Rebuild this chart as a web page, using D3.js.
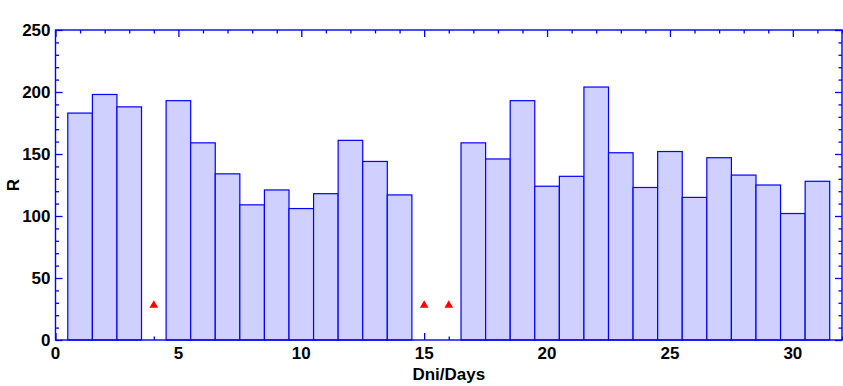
<!DOCTYPE html>
<html>
<head>
<meta charset="utf-8">
<script src="https://cdn.jsdelivr.net/npm/d3@7"></script>
<style>
  body { margin: 0; background: #fff; }
  text { font-family: "Liberation Sans", Arial, sans-serif; font-weight: bold; }
</style>
</head>
<body>
<svg id="chart" width="843" height="386"></svg>
<script>
// days with a measured R value
const days   = [1,2,3,5,6,7,8,9,10,11,12,13,14,17,18,19,20,21,22,23,24,25,26,27,28,29,30,31];
const rVals  = [183,198,188,193,159,134,109,121,106,118,161,144,117,159,146,193,124,132,204,151,123,152,115,147,133,125,102,128];
// missing days marked by triangles
const missDays = [4,15,16];
const missVals = [28,28,28];
const xTicks = [0,5,10,15,20,25,30];
const yTicks = [0,50,100,150,200,250];

const svg = d3.select("#chart");
const margin = { top: 30, right: 1, bottom: 46, left: 55.5 };
const W = 843 - margin.left - margin.right;
const H = 386 - margin.top - margin.bottom;
const G = svg.append("g").attr("transform", `translate(${margin.left},${margin.top})`);

const x = d3.scaleLinear().domain([0, 32]).range([0, W]);
const y = d3.scaleLinear().domain([0, 250]).range([H, 0]);
const blue = "#0000ff";

const minX = d3.range(0, 33), minY = d3.range(0, 251, 10);

// inward ticks on all four sides (drawn first, bars cover them)
[[d3.axisBottom(x), `translate(0,${H})`, minX, xTicks],
 [d3.axisTop(x), "translate(0,0)", minX, xTicks],
 [d3.axisLeft(y), "translate(0,0)", minY, yTicks],
 [d3.axisRight(y), `translate(${W},0)`, minY, yTicks]].forEach(([ax, tr, mn, mj]) => {
  const g = G.append("g").attr("transform", tr);
  g.call(ax.tickValues(mn).tickSize(-3.5).tickFormat("")).call(s => s.select(".domain").remove());
  g.selectAll(".tick line").attr("stroke", blue).attr("stroke-width", 1.3)
    .filter(d => mj.includes(d))
    .each(function() {
      const l = d3.select(this);
      if (l.attr("y2") !== null && +l.attr("y2") !== 0) l.attr("y2", +l.attr("y2") * 2);
      if (l.attr("x2") !== null && +l.attr("x2") !== 0) l.attr("x2", +l.attr("x2") * 2);
    });
});

// bars
G.selectAll("rect.bar")
  .data(days.map((d, i) => ({ d, v: rVals[i] })))
  .enter().append("rect")
  .attr("class", "bar")
  .attr("x", d => x(d.d - 0.5))
  .attr("width", d => x(d.d + 0.5) - x(d.d - 0.5))
  .attr("y", d => y(d.v))
  .attr("height", d => y(0) - y(d.v))
  .attr("fill", "#d0d0ff")
  .attr("stroke", blue)
  .attr("stroke-width", 1.2);

// missing-value markers
G.selectAll("path.miss")
  .data(missDays.map((d, i) => ({ d, v: missVals[i] })))
  .enter().append("path")
  .attr("class", "miss")
  .attr("transform", d => `translate(${x(d.d)},${y(d.v)})`)
  .attr("d", d3.symbol(d3.symbolTriangle, 32))
  .attr("fill", "#ff0000");

// frame
G.append("rect").attr("width", W).attr("height", H)
  .attr("fill", "none").attr("stroke", blue).attr("stroke-width", 1.4);

// tick labels
G.selectAll("text.xl").data(xTicks).enter().append("text")
  .attr("x", d => x(d)).attr("y", H + 19)
  .attr("text-anchor", "middle").attr("font-size", 17).text(d => d);
G.selectAll("text.yl").data(yTicks).enter().append("text")
  .attr("x", -5).attr("y", d => y(d) + 6)
  .attr("text-anchor", "end").attr("font-size", 17).text(d => d);

// axis titles
G.append("text").attr("x", W / 2).attr("y", H + 40)
  .attr("text-anchor", "middle").attr("font-size", 17).text("Dni/Days");
G.append("text").attr("transform", `translate(${-37},${H / 2}) rotate(-90)`)
  .attr("text-anchor", "middle").attr("font-size", 17).text("R");
</script>
</body>
</html>
